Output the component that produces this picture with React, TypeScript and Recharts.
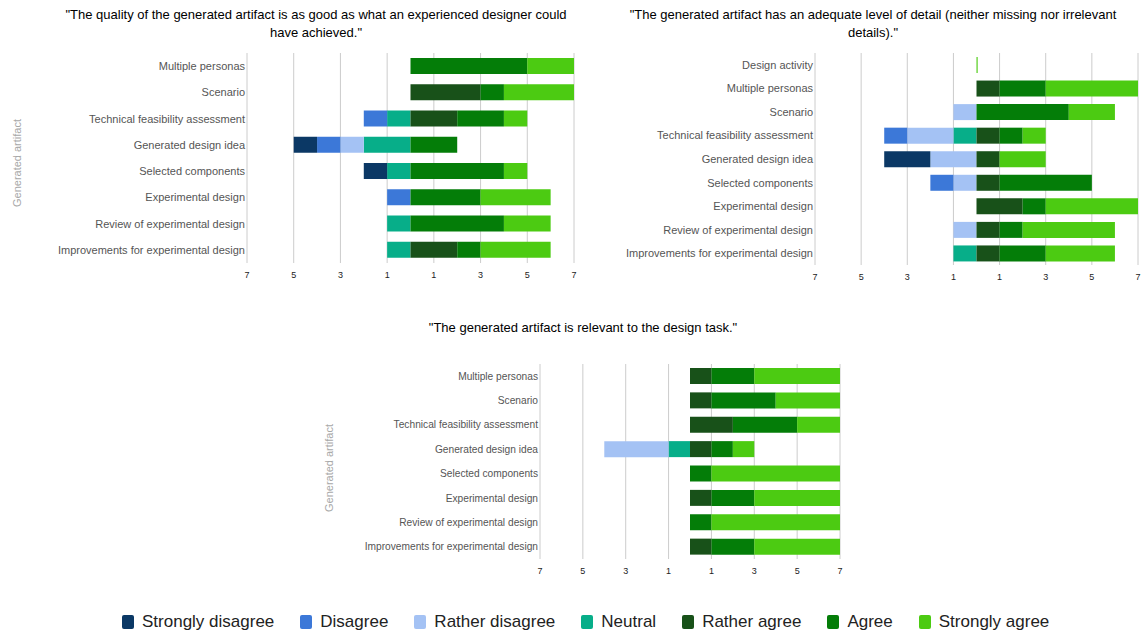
import React from 'react'
import { BarChart, Bar, XAxis, YAxis, CartesianGrid } from 'recharts'

const LEVELS = ['Strongly disagree', 'Disagree', 'Rather disagree', 'Neutral', 'Rather agree', 'Agree', 'Strongly agree']
const KEYS = ['sd', 'd', 'rd', 'n', 'ra', 'a', 'sa']
const COLORS = ['#0b3865', '#3c78d8', '#a4c2f4', '#07ae89', '#185119', '#047d08', '#4ccb12']
const TICKS = [-7, -5, -3, -1, 1, 3, 5, 7]

// counts per row: SD, D, RD, N, RA, A, SA
const qualityArtifacts = ['Multiple personas', 'Scenario', 'Technical feasibility assessment', 'Generated design idea', 'Selected components', 'Experimental design', 'Review of experimental design', 'Improvements for experimental design']
const qualityCounts = [
  [0, 0, 0, 0, 0, 5, 2],
  [0, 0, 0, 0, 3, 1, 3],
  [0, 1, 0, 1, 2, 2, 1],
  [1, 1, 1, 2, 0, 2, 0],
  [1, 0, 0, 1, 0, 4, 1],
  [0, 1, 0, 0, 0, 3, 3],
  [0, 0, 0, 1, 0, 4, 2],
  [0, 0, 0, 1, 2, 1, 3],
]

const detailArtifacts = ['Design activity', 'Multiple personas', 'Scenario', 'Technical feasibility assessment', 'Generated design idea', 'Selected components', 'Experimental design', 'Review of experimental design', 'Improvements for experimental design']
const detailCounts = [
  [0, 0, 0, 0, 0, 0, 0.05],
  [0, 0, 0, 0, 1, 2, 4],
  [0, 0, 1, 0, 0, 4, 2],
  [0, 1, 2, 1, 1, 1, 1],
  [2, 0, 2, 0, 1, 0, 2],
  [0, 1, 1, 0, 1, 4, 0],
  [0, 0, 0, 0, 2, 1, 4],
  [0, 0, 1, 0, 1, 1, 4],
  [0, 0, 0, 1, 1, 2, 3],
]

const relevanceArtifacts = ['Multiple personas', 'Scenario', 'Technical feasibility assessment', 'Generated design idea', 'Selected components', 'Experimental design', 'Review of experimental design', 'Improvements for experimental design']
const relevanceCounts = [
  [0, 0, 0, 0, 1, 2, 4],
  [0, 0, 0, 0, 1, 3, 3],
  [0, 0, 0, 0, 2, 3, 2],
  [0, 0, 3, 1, 1, 1, 1],
  [0, 0, 0, 0, 0, 1, 6],
  [0, 0, 0, 0, 1, 2, 4],
  [0, 0, 0, 0, 0, 1, 6],
  [0, 0, 0, 0, 1, 2, 4],
]

function build(names: string[], counts: number[][]) {
  return names.map((name, i) => {
    const row: Record<string, number | string> = { name }
    counts[i].forEach((c, j) => { row[KEYS[j]] = j < 4 ? -c : c })
    return row
  })
}

// negative side stacks outward from zero: neutral first
const ORDER = [3, 2, 1, 0, 4, 5, 6]

function Likert({ data, width, height, margin, yWidth, labelSize, barSize }: {
  data: Record<string, number | string>[]; width: number; height: number
  margin: { top: number; right: number; bottom: number; left: number }
  yWidth: number; labelSize: number; barSize: number
}) {
  // plain text tick so long names stay on one line
  const catTick = (p: any) => (
    <text x={p.x} y={p.y} textAnchor="end" dominantBaseline="central" fontSize={labelSize} fill="#555">
      {p.payload.value}
    </text>
  )
  return (
    <BarChart layout="vertical" width={width} height={height} data={data} margin={margin} stackOffset="sign" barSize={barSize}>
      <CartesianGrid horizontal={false} stroke="#cccccc" />
      <XAxis type="number" domain={[-7, 7]} ticks={TICKS} interval={0} height={20}
        tickFormatter={(v: number) => String(Math.abs(v))}
        tickLine={false} axisLine={false} tickSize={0} tickMargin={9}
        tick={{ fontSize: 9, fill: '#222' }} />
      <YAxis type="category" dataKey="name" width={yWidth} interval={0}
        tickLine={false} axisLine={false} tickSize={0} tickMargin={2}
        tick={catTick} />
      {ORDER.map(j => (
        <Bar key={KEYS[j]} dataKey={KEYS[j]} name={LEVELS[j]} stackId="s" fill={COLORS[j]} isAnimationActive={false} />
      ))}
    </BarChart>
  )
}

const abs = (left: number, top: number): React.CSSProperties => ({ position: 'absolute', left, top })

function AxisTitle({ x, y }: { x: number; y: number }) {
  return (
    <div style={{ position: 'absolute', left: x, top: y, transform: 'translate(-50%, -50%) rotate(-90deg)', whiteSpace: 'nowrap', fontSize: 11, color: '#a8a8a8' }}>
      Generated artifact
    </div>
  )
}

export default function App() {
  return (
    <div style={{ position: 'absolute', left: 0, top: 0, width: 1144, height: 633, background: '#fff', fontFamily: '"Liberation Sans", Arial, sans-serif', overflow: 'hidden' }}>
      <div style={{ ...abs(16, 6), width: 600, textAlign: 'center', fontSize: 13, lineHeight: '18px', color: '#000' }}>
        "The quality of the generated artifact is as good as what an experienced designer could<br />have achieved."
      </div>
      <div style={{ ...abs(573, 6), width: 600, textAlign: 'center', fontSize: 13, lineHeight: '18px', color: '#000' }}>
        "The generated artifact has an adequate level of detail (neither missing nor irrelevant<br />details)."
      </div>
      <div style={{ ...abs(283, 319), width: 600, textAlign: 'center', fontSize: 13, lineHeight: '18px', color: '#000' }}>
        "The generated artifact is relevant to the design task."
      </div>

      <div style={abs(0, 0)}>
        <Likert data={build(qualityArtifacts, qualityCounts)} width={580} height={290}
          margin={{ top: 53, right: 6, bottom: 7, left: 0 }} yWidth={247} labelSize={11} barSize={16} />
      </div>
      <div style={abs(580, 0)}>
        <Likert data={build(detailArtifacts, detailCounts)} width={564} height={292}
          margin={{ top: 53, right: 6, bottom: 7, left: 0 }} yWidth={235} labelSize={11} barSize={16} />
      </div>
      <div style={abs(330, 340)}>
        <Likert data={build(relevanceArtifacts, relevanceCounts)} width={520} height={246}
          margin={{ top: 24, right: 10, bottom: 7, left: 0 }} yWidth={210} labelSize={10.2} barSize={16} />
      </div>

      <AxisTitle x={17} y={163} />
      <AxisTitle x={329} y={468} />

      <div style={{ ...abs(122, 612), display: 'flex', gap: 26, alignItems: 'center', fontSize: 17, color: '#222', whiteSpace: 'nowrap' }}>
        {LEVELS.map((l, i) => (
          <div key={l} style={{ display: 'flex', alignItems: 'center', gap: 8 }}>
            <span style={{ width: 12, height: 14, background: COLORS[i], borderRadius: 2, display: 'inline-block' }} />
            <span>{l}</span>
          </div>
        ))}
      </div>
    </div>
  )
}
